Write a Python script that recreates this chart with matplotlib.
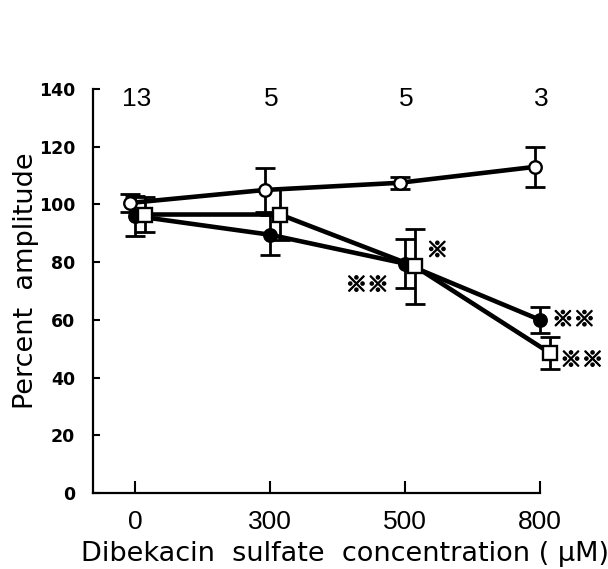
import matplotlib.pyplot as plt
import matplotlib.patheffects as pe
import numpy as np

plt.rcParams['font.family'] = ['Liberation Sans', 'DejaVu Sans']

conc_labels = ['0', '300', '500', '800']
n_counts = ['13', '5', '5', '3']

open_circle = [100.5, 105, 107.5, 113]
open_circle_err = [3, 7.5, 2, 7]
filled_circle = [96, 89.5, 79.5, 60]
filled_circle_err = [7, 7, 8.5, 4.5]
open_square = [96.5, 96.5, 78.5, 48.5]
open_square_err = [6, 9, 13, 5.5]

# significance marks: (x in category units, y value, text)
sig_marks = [(2.24, 84, '※'), (1.72, 72, '※※'), (3.25, 60, '※※'), (3.31, 46, '※※')]

fig = plt.figure(figsize=(6.08, 5.69), dpi=100)
ax = fig.add_axes([0.153, 0.1336, 0.735, 0.71])

x = np.arange(len(conc_labels))
series = [
    (x - 0.04, open_circle, open_circle_err, 'o', 'white', 9),
    (x + 0.0, filled_circle, filled_circle_err, 'o', 'black', 9),
    (x + 0.075, open_square, open_square_err, 's', 'white', 9.5),
]
for xs, ys, es, mk, fc, ms in series:
    ax.errorbar(xs, ys, yerr=es, fmt='none', ecolor='black', elinewidth=2,
                capsize=7, capthick=2, clip_on=False, zorder=2)
    ax.plot(xs, ys, color='black', lw=3.3, marker=mk, markersize=ms,
            markerfacecolor=fc, markeredgecolor='black', markeredgewidth=1.7,
            clip_on=False, zorder=3)

for xi, n in zip(x, n_counts):
    ax.text(xi + 0.01, 136.5, n, ha='center', va='center', fontsize=19,
            clip_on=False)

for sx, sy, s in sig_marks:
    ax.text(sx, sy, s, ha='center', va='center', fontsize=15.5,
            fontweight='bold', family=['Noto Sans CJK JP', 'DejaVu Sans'],
            clip_on=False,
            path_effects=[pe.withStroke(linewidth=1.0, foreground='black')])

ax.set_xlim(-0.311, 3.0)
ax.set_ylim(0, 140)
ax.set_yticks(np.arange(0, 141, 20))
ax.set_xticks(x)
ax.set_xticklabels(conc_labels, fontsize=19)
for lab in ax.get_yticklabels():
    lab.set_fontweight('bold')
    lab.set_fontsize(12.5)
    lab.set_family('DejaVu Sans')

ax.tick_params(axis='y', direction='in', length=5, width=1.5, pad=13)
ax.tick_params(axis='x', direction='in', length=8.5, width=1.5, pad=12)
ax.spines['top'].set_visible(False)
ax.spines['right'].set_visible(False)
ax.spines['left'].set_linewidth(1.6)
ax.spines['bottom'].set_linewidth(1.6)

ax.set_ylabel('Percent  amplitude', fontsize=19.5, family='DejaVu Sans')
ax.yaxis.set_label_coords(-0.122, 0.525)
ax.set_xlabel('Dibekacin  sulfate  concentration ( \u03bcM)', fontsize=19.5,
              family='DejaVu Sans', va='baseline')
ax.xaxis.set_label_coords(0.564, -0.168)

fig.savefig('out.png', dpi=100)
